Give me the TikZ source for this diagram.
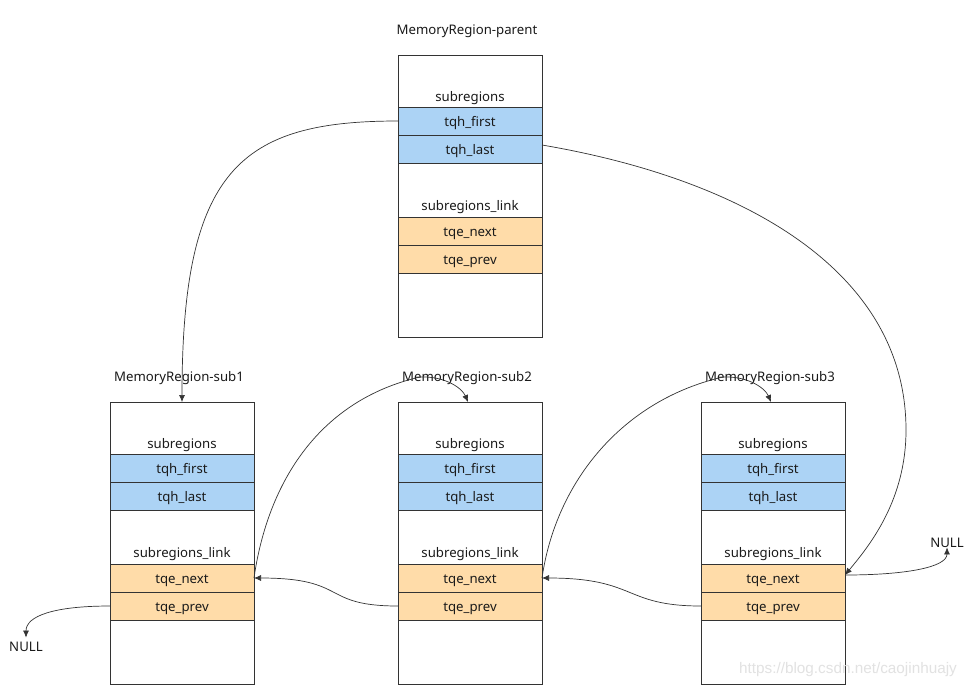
\documentclass[tikz,border=0pt]{standalone}
\usepackage{fontspec}
\setmainfont{Noto Sans}
\newfontfamily\markfont{Liberation Sans}
\usetikzlibrary{arrows.meta}

\definecolor{linec}{HTML}{333333}
\definecolor{txtc}{HTML}{1A1A1A}
\definecolor{headfill}{HTML}{ACD3F5}
\definecolor{linkfill}{HTML}{FFDCA9}
\definecolor{markc}{HTML}{E2E2E2}

\tikzset{
  txt/.style={font=\fontsize{13.2}{15}\selectfont, text=txtc,
    text height=10.4pt, text depth=0pt},
  regbox/.style={draw=linec, line width=0.9pt, fill=white,
    minimum width=144pt, minimum height=282pt, inner sep=0pt, outer sep=0pt},
  field/.style={txt, draw=linec, line width=0.9pt, minimum width=144pt,
    minimum height=28pt, inner sep=0pt, outer sep=0pt},
  lbl/.style={txt, inner sep=0pt},
  link/.style={draw=linec, line width=0.7pt, -{Latex[length=7pt,width=6pt]}},
}

% one MemoryRegion block: name, left x, top y, title
\newcommand{\memregion}[4]{%
  \node[regbox, anchor=north west] (#1) at (#2,#3) {};
  \node[lbl] (#1-title) at (#2+69,#3-26) {#4};
  \node[lbl] (#1-sub) at (#2+72,#3+41) {subregions};
  \node[field, fill=headfill, anchor=north west] (#1-first) at (#2,#3+52) {tqh\_first};
  \node[field, fill=headfill, anchor=north west] (#1-last) at (#2,#3+80) {tqh\_last};
  \node[lbl] (#1-lk) at (#2+72,#3+150) {subregions\_link};
  \node[field, fill=linkfill, anchor=north west] (#1-next) at (#2,#3+162) {tqe\_next};
  \node[field, fill=linkfill, anchor=north west] (#1-prev) at (#2,#3+190) {tqe\_prev};
}

\begin{document}
\begin{tikzpicture}[x=1pt, y=-1pt]
  \fill[white] (0,0) rectangle (971,686);
  \useasboundingbox (0,0) rectangle (971,686);

  \memregion{parent}{398}{55}{MemoryRegion-parent}
  \memregion{sub1}{110}{402}{MemoryRegion-sub1}
  \memregion{sub2}{398}{402}{MemoryRegion-sub2}
  \memregion{sub3}{701}{402}{MemoryRegion-sub3}

  \node[lbl] (nullL) at (26,646) {NULL};
  \node[lbl] (nullR) at (947,542) {NULL};

  \coordinate (peak12) at (420,377);
  \coordinate (peak23) at (723,377);
  \coordinate (bend3) at (906,430);

  % head of the list
  \draw[link] (parent-first.west) .. controls +(-158,0) and +(0,-232) .. (sub1.north);
  \draw[link] ([yshift=4pt]parent-last.east) .. controls +(200,34) and +(0,-160) .. (bend3)
              .. controls +(0,70) and +(25,-30) .. ([yshift=3pt]sub3-next.east);

  % tqe_next links
  \draw[link] (sub1-next.east) .. controls +(14,-97) and +(-100,23) .. (peak12)
              .. controls +(25,-1) and +(-6,-14) .. ([xshift=-2pt]sub2.north);
  \draw[link] (sub2-next.east) .. controls +(14,-97) and +(-100,23) .. (peak23)
              .. controls +(25,-1) and +(-6,-14) .. ([xshift=-2pt]sub3.north);
  \draw[link] ([yshift=3pt]sub3-next.east) .. controls +(60,0) and +(0,20) .. (nullR.south);

  % tqe_prev links
  \draw[link] (sub2-prev.west) .. controls +(-78,0) and +(95,0) .. (sub1-next.east);
  \draw[link] (sub3-prev.west) .. controls +(-78,0) and +(95,0) .. (sub2-next.east);
  \draw[link] (sub1-prev.west) .. controls +(-55,0) and +(0,-22) .. ([yshift=3pt]nullL.north);

  \node[inner sep=0pt, text=markc, font=\markfont\fontsize{15.3}{17}\selectfont] (mark) at (848,670) {https://blog.csdn.net/caojinhuajy};
\end{tikzpicture}
\end{document}
